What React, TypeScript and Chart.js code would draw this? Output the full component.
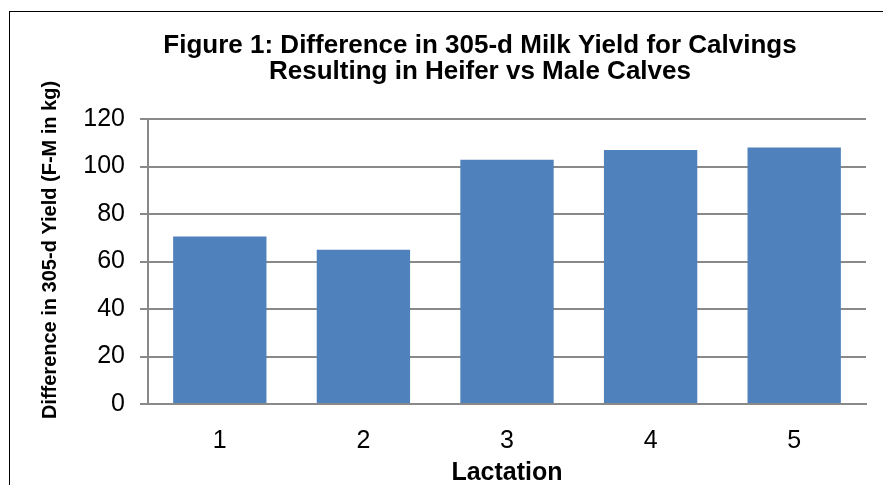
import React, { useEffect, useRef } from "react";
import { Chart, registerables } from "chart.js";

Chart.register(...registerables);

const categories = ["1", "2", "3", "4", "5"];
const yieldDiff = [70.5, 65, 102.8, 107, 108];
const yTicks = { min: 0, max: 120, step: 20 };
const titleLines = [
  "Figure 1: Difference in 305-d Milk Yield for Calvings",
  "Resulting in Heifer vs Male Calves",
];
const xTitle = "Lactation";
const yTitle = "Difference in 305-d Yield (F-M in kg)";

const FONT = '"Liberation Sans", Arial, sans-serif';
const GRID = "#898989";

const textPlugin = {
  id: "customTexts",
  afterDraw(chart: any) {
    const { ctx, chartArea } = chart;
    ctx.save();
    ctx.fillStyle = "#000";
    ctx.textAlign = "center";
    ctx.textBaseline = "alphabetic";
    ctx.font = `bold 26px ${FONT}`;
    ctx.fillText(titleLines[0], 480, 53);
    ctx.fillText(titleLines[1], 480, 78.5);

    ctx.font = `bold 25px ${FONT}`;
    ctx.fillText(xTitle, (chartArea.left + chartArea.right) / 2, 480);

    ctx.translate(50, 250);
    ctx.rotate(-Math.PI / 2);
    ctx.font = `bold 20px ${FONT}`;
    ctx.textBaseline = "middle";
    ctx.fillText(yTitle, 0, 0);
    ctx.restore();
  },
};

export default function App() {
  const ref = useRef<HTMLCanvasElement>(null);

  useEffect(() => {
    if (!ref.current) return;
    const chart = new Chart(ref.current, {
      type: "bar",
      data: {
        labels: categories,
        datasets: [
          {
            data: yieldDiff,
            backgroundColor: "#4F81BD",
            borderWidth: 0,
            barPercentage: 0.65,
            categoryPercentage: 1,
          },
        ],
      },
      options: {
        animation: false,
        responsive: false,
        devicePixelRatio: 1,
        layout: { padding: { top: 119, right: 17, left: 0, bottom: 0 } },
        plugins: {
          legend: { display: false },
          title: { display: false },
          tooltip: { enabled: false },
        },
        scales: {
          x: {
            grid: { display: false },
            border: { display: true, color: GRID, width: 2 },
            ticks: {
              color: "#000",
              font: { family: FONT, size: 25 },
              padding: 14,
            },
            afterFit(scale: any) {
              scale.height = 81;
            },
          },
          y: {
            min: yTicks.min,
            max: yTicks.max,
            grid: {
              color: GRID,
              lineWidth: 2,
              drawTicks: true,
              tickLength: 8,
            },
            border: { display: true, color: GRID, width: 2 },
            ticks: {
              stepSize: yTicks.step,
              color: "#000",
              font: { family: FONT, size: 25 },
              padding: 15,
            },
            afterFit(scale: any) {
              scale.width = 148;
            },
          },
        },
      },
      plugins: [textPlugin],
    });
    return () => chart.destroy();
  }, []);

  return (
    <div
      style={{
        position: "fixed",
        left: 0,
        top: 0,
        width: 883,
        height: 485,
        background: "#fff",
        overflow: "hidden",
      }}
    >
      <div
        style={{
          position: "absolute",
          left: 9,
          top: 11,
          right: 0,
          bottom: 0,
          borderLeft: "1px solid #000",
          borderTop: "1px solid #000",
        }}
      />
      <canvas
        ref={ref}
        width={883}
        height={485}
        style={{ position: "absolute", left: 0, top: 0 }}
      />
    </div>
  );
}
